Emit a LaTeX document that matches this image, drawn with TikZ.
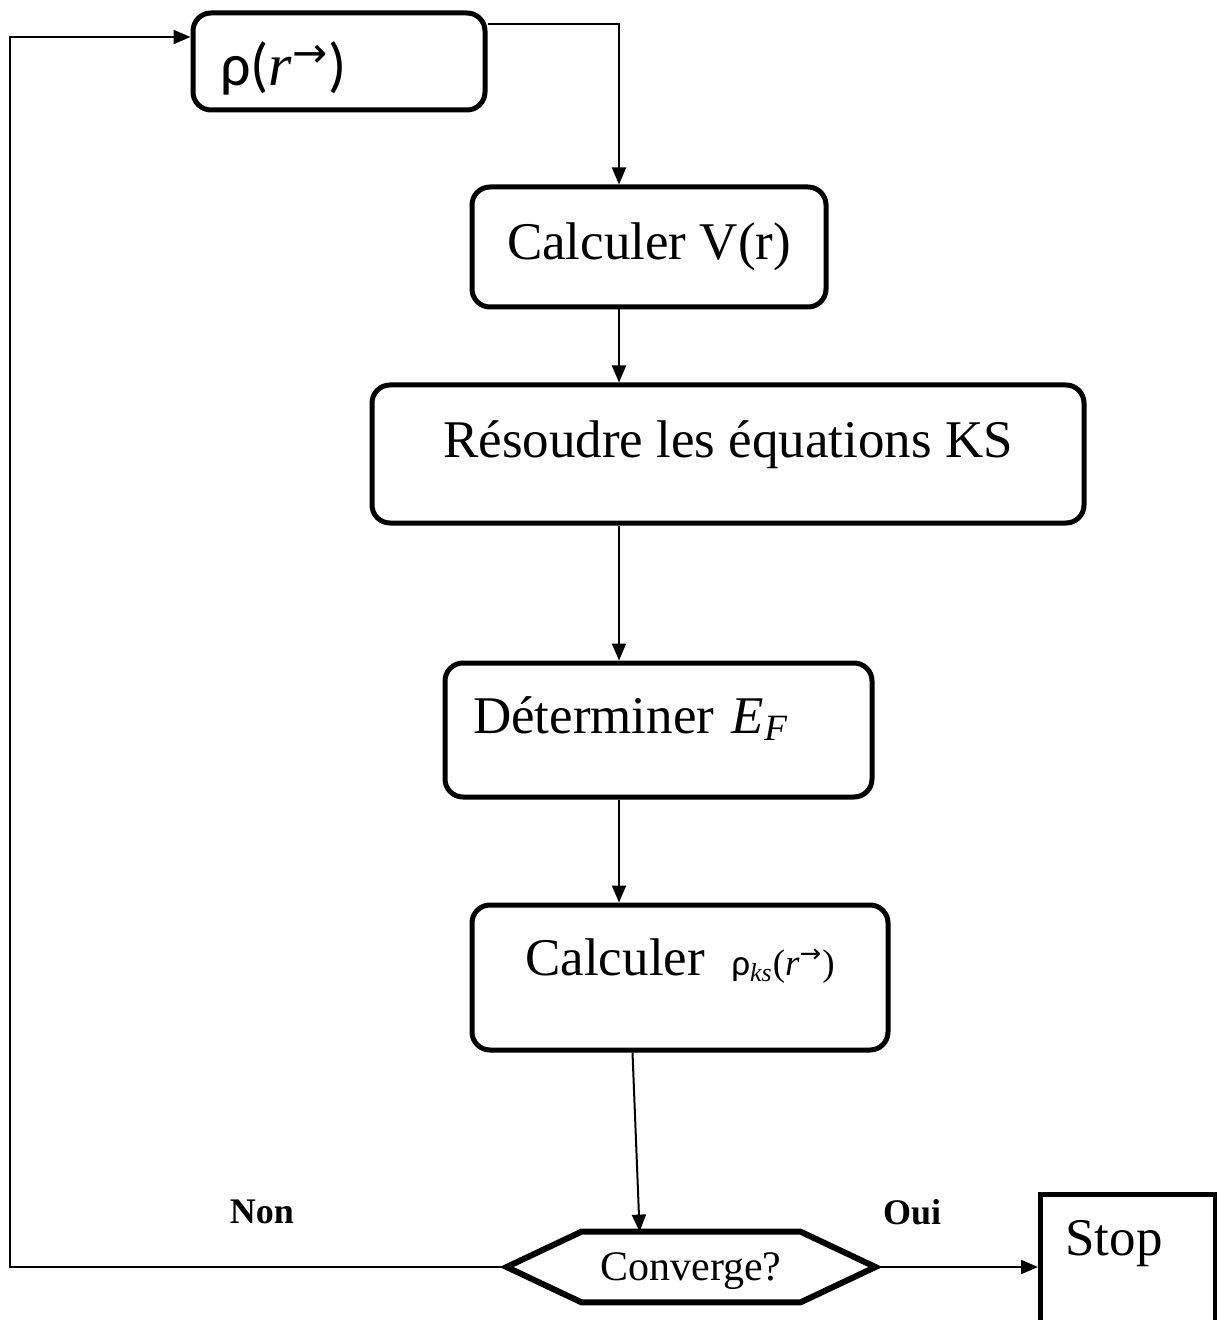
\documentclass[tikz,border=0pt]{standalone}
\usepackage{fontspec}
\setmainfont{Liberation Serif}
\newfontfamily\rhofont{Carlito}
\newfontfamily\arrowfont{DejaVu Sans}
\usetikzlibrary{arrows.meta,calc}
\newcommand{\vecr}{\textit{r}\textsuperscript{\arrowfont →}}

\begin{document}
\begin{tikzpicture}[x=0.5pt,y=-0.5pt,
    box/.style={draw,line width=2.5pt,rounded corners=9pt,
      font=\fontsize{26.5}{30}\selectfont},
    link/.style={line width=1pt,-{Triangle[length=8.5pt,width=7pt]}},
    answer/.style={font=\fontsize{18}{20}\selectfont\bfseries}
  ]
\useasboundingbox (0,0) rectangle (1216,1320);

% boites
\node[box,minimum width=146pt,minimum height=48.5pt,text width=119pt,
      inner xsep=13.5pt,align=left,text height=28.5pt,font=\fontsize{30}{32}\selectfont]
      (dens) at (339,61.5) {{\rhofont ρ(}\vecr{\rhofont )}};
\node[box,minimum width=177pt,minimum height=60pt] (calcV) at (649,247) {Calculer V(r)};
\node[box,minimum width=356pt,minimum height=69pt,text depth=15pt] (solveKS) at (728,454)
      {Résoudre les équations KS};
\node[box,minimum width=213.5pt,minimum height=67pt,text width=185.5pt,inner xsep=14pt,
      align=left,text depth=15pt] (fermi) at (658.5,730)
      {Déterminer \textit{E}\textsubscript{\textit{F}}};
\node[box,minimum width=208pt,minimum height=72.5pt,text depth=20.5pt] (calcRho) at (680,977.5)
      {Calculer \ {\fontsize{18.5}{20}\selectfont{\rhofont ρ}\textsubscript{\textit{ks}}(\vecr)}};
\node[minimum width=184pt,minimum height=35pt,text depth=0pt,
      font=\fontsize{21}{24}\selectfont] (conv) at (691,1267) {Converge?};
\draw[line width=3pt,line join=miter]
  (conv.west) -- ($(conv.north west)+(75,0)$) -- ($(conv.north east)+(-75,0)$)
  -- (conv.east) -- ($(conv.south east)+(-75,0)$) -- ($(conv.south west)+(75,0)$) -- cycle;
\node[draw,line width=2.5pt,anchor=north west,minimum width=87.5pt,minimum height=75pt,
      text width=62.5pt,inner xsep=12.5pt,inner ysep=12.5pt,align=left,text depth=32pt,
      font=\fontsize{26.5}{30}\selectfont] (stop) at (1038,1192) {Stop};

\node[answer] (non) at (262,1212) {Non};
\node[answer] (oui) at (912,1212) {Oui};

% fleches
\coordinate (lane) at (619,0);
\coordinate (back) at (10,37);
\draw[link] ($(dens.north east)+(0,14)$) -| (lane |- calcV.north);
\draw[link] (lane |- calcV.south) -- (lane |- solveKS.north);
\draw[link] (lane |- solveKS.south) -- (lane |- fermi.north);
\draw[link] (lane |- fermi.south) -- (lane |- calcRho.north);
\draw[link] ($(calcRho.south west)+(163,0)$) -- ($(conv.north west)+(133,0)$);
\draw[link] (conv.west) -| (back) -- (back -| dens.west);
\draw[link] (conv.east) -- (conv.east -| stop.west);
\end{tikzpicture}
\end{document}
